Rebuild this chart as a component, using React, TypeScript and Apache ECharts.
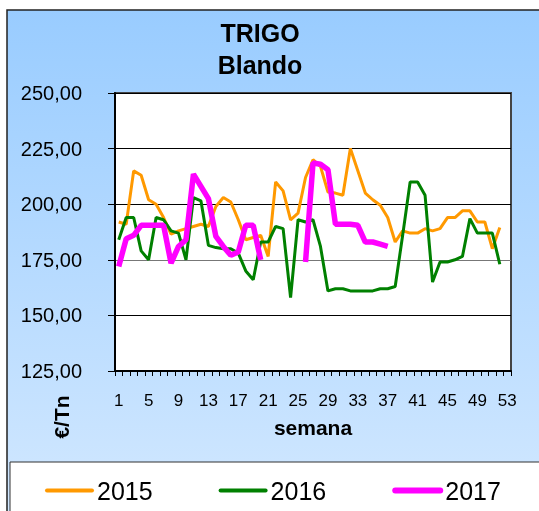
import React, { useEffect, useRef } from "react";
import * as echarts from "echarts";

const weeks = [
  "1","2","3","4","5","6","7","8","9","10","11","12","13","14","15","16","17","18","19","20",
  "21","22","23","24","25","26","27","28","29","30","31","32","33","34","35","36","37","38","39","40",
  "41","42","43","44","45","46","47","48","49","50","51","52","53",
];

const y2015 = [
  192, 191, 215, 213, 202, 200, 194, 186.5, 188, 189, 190, 191, 190, 199, 203, 201, 193, 184, 185, 186,
  176.5, 210, 206, 193, 196, 212, 220, 217, 205.5, 205, 204, 225, 215, 205, 202, 199.5, 194, 183, 188, 187,
  187, 189, 188, 189, 194, 194, 197, 197, 192, 192, 180, 189.5, null,
];

const y2016 = [
  184, 194, 194, 179, 175, 194, 193, 188, 187, 175, 203, 201.5, 181.5, 180.5, 180, 180, 178, 170, 166, 183,
  183, 190, 189, 158, 193, 192, 193, 181, 161, 162, 162, 161, 161, 161, 161, 162, 162, 163, 186, 210,
  210, 204, 165, 174, 174, 175, 176.5, 193.5, 187, 187, 187, 173, null,
];

const y2017 = [
  172, 184.5, 186, 190.5, 190.5, 190.5, 190.5, 173.5, 181, 184, 213.5, 208, 202.5, 185.5, 181, 177, 178.5, 190.5, 190.5, 175,
  null, null, null, null, null, 174, 218.5, 218, 215.5, 191, 191, 191, 190.5, 183, 183, 182, 181, null, null, null,
  null, null, null, null, null, null, null, null, null, null, null, null, null,
];

const seriesNames = ["2015", "2016", "2017"];
const seriesColors = ["#FF9900", "#008000", "#FF00FF"];

export default function App() {
  const ref = useRef<HTMLDivElement>(null);

  useEffect(() => {
    if (!ref.current) return;
    const chart = echarts.init(ref.current, null, { renderer: "svg" });
    const font = "'Liberation Sans', Arial, sans-serif";
    const dataSets = [y2015, y2016, y2017];
    const widths = [3, 3, 5.5];
    const legendWidths = [4, 4, 6];

    chart.setOption({
      animation: false,
      textStyle: { fontFamily: font },
      title: {
        text: "TRIGO\nBlando",
        left: 255,
        top: 12,
        textAlign: "center",
        textStyle: {
          fontFamily: font,
          fontSize: 25,
          fontWeight: "bold",
          color: "#000",
          lineHeight: 32,
        },
      },
      graphic: [
        {
          type: "rect",
          z: -100,
          silent: true,
          shape: { x: 7, y: 10, width: 570, height: 540 },
          style: {
            fill: new echarts.graphic.LinearGradient(0, 0, 0, 1, [
              { offset: 0, color: "#99CCFF" },
              { offset: 1, color: "#D6EAFF" },
            ]),
            stroke: "#222",
            lineWidth: 1.5,
          },
        },
        {
          type: "rect",
          z: -90,
          silent: true,
          shape: { x: 10, y: 462, width: 570, height: 80 },
          style: { fill: "#fff", stroke: "#333", lineWidth: 1 },
        },
        {
          type: "text",
          z: 100,
          x: 61,
          y: 417,
          rotation: Math.PI / 2,
          style: {
            text: "€/Tn",
            fontFamily: font,
            fontSize: 21,
            fontWeight: "bold",
            fill: "#000",
            align: "center",
            verticalAlign: "middle",
          },
        },
      ],
      legend: {
        left: 40,
        top: 473,
        itemWidth: 45,
        itemHeight: 14,
        itemGap: 66,
        data: seriesNames.map((n, i) => ({
          name: n,
          lineStyle: { width: legendWidths[i], cap: "round" },
        })),
        itemStyle: { opacity: 0 },
        textStyle: { fontFamily: font, fontSize: 25, color: "#000" },
      },
      grid: {
        left: 115,
        right: 28,
        top: 93,
        bottom: 140,
        show: true,
        backgroundColor: "#fff",
        borderColor: "#444",
        borderWidth: 2,
      },
      xAxis: {
        type: "category",
        data: weeks,
        boundaryGap: true,
        name: "semana",
        nameLocation: "middle",
        nameGap: 46,
        nameTextStyle: { fontFamily: font, fontSize: 21, fontWeight: "bold", color: "#000" },
        axisLine: { lineStyle: { color: "#000", width: 2 } },
        axisTick: { show: true, interval: 0, length: 5, lineStyle: { color: "#000" } },
        axisLabel: { interval: 3, fontSize: 17, color: "#000", margin: 21, fontFamily: font },
        splitLine: { show: false },
      },
      yAxis: {
        type: "value",
        min: 125,
        max: 250,
        interval: 25,
        axisLine: { show: true, lineStyle: { color: "#000", width: 2 } },
        axisTick: { show: true, length: 7, lineStyle: { color: "#000" } },
        axisLabel: {
          fontSize: 20,
          color: "#000",
          margin: 33,
          fontFamily: font,
          formatter: (v: number) => v.toFixed(2).replace(".", ","),
        },
        splitLine: {
          show: true,
          lineStyle: { color: ["#000", "#000", "#777", "#000", "#000", "#000"], width: 1.2 },
        },
      },
      series: dataSets.map((d, i) => ({
        name: seriesNames[i],
        type: "line",
        data: d,
        symbol: "none",
        connectNulls: false,
        color: seriesColors[i],
        lineStyle: { color: seriesColors[i], width: widths[i] },
        z: 2 + i,
      })),
    });

    return () => chart.dispose();
  }, []);

  return (
    <div
      ref={ref}
      style={{ position: "fixed", left: 0, top: 0, width: 539, height: 511 }}
    />
  );
}
